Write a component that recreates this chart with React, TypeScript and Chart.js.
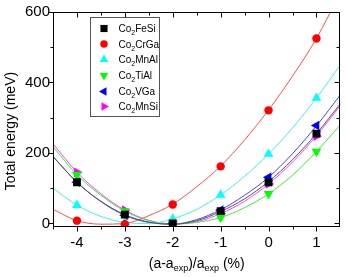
import React, { useEffect, useRef } from 'react';
import { Chart, registerables } from 'chart.js';
Chart.register(...registerables);

const FONT = '"Liberation Sans", Arial, sans-serif';

// measured points
const pointX = [-4, -3, -2, -1, 0, 1];
const feSiPts = [117, 25, 0, 35, 117, 255];
const crGaPts = [8, -2, 54, 162, 321, 525];
const mnAlPts = [52, 3, 13, 81, 197, 356];
const tiAlPts = [138, 35, -1, 17, 84, 204];
const vGaPts = [117, 23, 0, 38, 131, 278];
const mnSiPts = [145, 38, -1, 28, 112, 248];

// fitted curves
const fitX = [-4.5, -4, -3.5, -3, -2.5, -2, -1.5, -1, -0.5, 0, 0.5, 1, 1.5];
const feSiFit = [190, 117, 63, 25, 4, -2, 8, 34, 70, 119, 181, 255, 340];
const crGaFit = [40, 8, -2, 0, 22, 55, 104, 163, 237, 322, 418, 525, 655];
const mnAlFit = [100, 52, 20, 3, 0, 13, 40, 81, 134, 197, 271, 356, 450];
const tiAlFit = [218, 138, 80, 35, 8, -2, 3, 17, 45, 84, 137, 204, 280];
const vGaFit = [190, 117, 62, 23, 3, -2, 11, 39, 80, 131, 198, 277, 365];
const mnSiFit = [226, 145, 84, 38, 9, -1, 5, 28, 63, 112, 174, 249, 335];

const seriesNames = ['FeSi', 'CrGa', 'MnAl', 'TiAl', 'VGa', 'MnSi'];
const seriesColors = ['#000000', '#ff0000', '#00ffff', '#00ff00', '#0000ff', '#ff00ff'];
const lineColors = ['#555555', '#ff5050', '#40f0f0', '#40e840', '#4040ff', '#ff40ff'];
const seriesStyles = ['rect', 'circle', 'triangle', 'triangle', 'triangle', 'triangle'];
const seriesRot = [0, 0, 0, 180, 270, 90];
const seriesRadius = [5.6, 4.2, 5.6, 5.6, 5.6, 5.6];

const xTicks = [-4, -3, -2, -1, 0, 1];
const yTicks = [0, 200, 400, 600];
const xTitleParts = [['(a-a', false], ['exp', true], [')/a', false], ['exp', true], [' (%)', false]];
const yTitle = 'Total energy (meV)';

const pts = [feSiPts, crGaPts, mnAlPts, tiAlPts, vGaPts, mnSiPts];
const fits = [feSiFit, crGaFit, mnAlFit, tiAlFit, vGaFit, mnSiFit];

function drawMarker(ctx: CanvasRenderingContext2D, style: string, rot: number, x: number, y: number, r: number, color: string) {
  ctx.save();
  ctx.fillStyle = color;
  ctx.translate(x, y);
  ctx.rotate((rot * Math.PI) / 180);
  ctx.beginPath();
  if (style === 'rect') {
    const s = r * Math.SQRT1_2;
    ctx.rect(-s, -s, 2 * s, 2 * s);
  } else if (style === 'circle') {
    ctx.arc(0, 0, r, 0, Math.PI * 2);
  } else {
    for (let i = 0; i < 3; i++) {
      const a = (i * 2 * Math.PI) / 3;
      const px = Math.sin(a) * r;
      const py = -Math.cos(a) * r;
      if (i === 0) ctx.moveTo(px, py);
      else ctx.lineTo(px, py);
    }
    ctx.closePath();
  }
  ctx.fill();
  ctx.restore();
}

const decor = {
  id: 'decor',
  afterDraw(chart: any) {
    const { ctx, chartArea } = chart;
    const xs = chart.scales.x;
    const ys = chart.scales.y;
    const L = Math.round(chartArea.left) + 0.5;
    const R = Math.round(chartArea.right) - 0.5;
    const T = Math.round(chartArea.top) + 0.5;
    const B = Math.round(chartArea.bottom) - 0.5;
    ctx.save();
    ctx.strokeStyle = '#000';
    ctx.lineWidth = 1;
    ctx.strokeRect(L, T, R - L, B - T);
    ctx.beginPath();
    const xMinor = xTicks.map((v) => v + 0.5).concat([xTicks[0] - 0.5]);
    const yMinor = yTicks.slice(0, -1).map((v, i) => (v + yTicks[i + 1]) / 2);
    const xt = (v: number, len: number) => {
      const p = Math.round(xs.getPixelForValue(v)) + 0.5;
      if (p < L - 0.1 || p > R + 0.1) return;
      ctx.moveTo(p, B); ctx.lineTo(p, B + len);
      ctx.moveTo(p, T); ctx.lineTo(p, T + len);
    };
    const yt = (v: number, len: number) => {
      const p = Math.round(ys.getPixelForValue(v)) + 0.5;
      ctx.moveTo(L, p); ctx.lineTo(L - len, p);
      ctx.moveTo(R, p); ctx.lineTo(R - len, p);
    };
    xTicks.forEach((v) => xt(v, 5));
    xMinor.forEach((v) => xt(v, 3));
    yTicks.forEach((v) => yt(v, 5));
    yMinor.forEach((v) => yt(v, 3));
    ctx.stroke();

    // legend
    const bx = 90.5, by = 17.5, bw = 69, bh = 99;
    ctx.strokeStyle = '#555';
    ctx.strokeRect(bx, by, bw, bh);
    const rowY = [28.5, 44, 59.5, 75.5, 91.5, 106.5];
    seriesNames.forEach((n, i) => {
      drawMarker(ctx, seriesStyles[i], seriesRot[i], 104, rowY[i], seriesRadius[i] * 0.9, seriesColors[i]);
      ctx.fillStyle = '#000';
      ctx.textBaseline = 'alphabetic';
      ctx.textAlign = 'left';
      let x = 118.5;
      const base = rowY[i] + 3.6;
      ctx.font = `10px ${FONT}`;
      ctx.fillText('Co', x, base);
      x += ctx.measureText('Co').width;
      ctx.font = `7px ${FONT}`;
      ctx.fillText('2', x, base + 3);
      x += ctx.measureText('2').width;
      ctx.font = `10px ${FONT}`;
      ctx.fillText(n, x, base);
    });

    // x title
    const mainF = `14px ${FONT}`;
    const subF = `9px ${FONT}`;
    let w = 0;
    xTitleParts.forEach(([t, sub]) => {
      ctx.font = sub ? subF : mainF;
      w += ctx.measureText(t as string).width;
    });
    let x = (chartArea.left + chartArea.right) / 2 - w / 2;
    const base = 268;
    xTitleParts.forEach(([t, sub]) => {
      ctx.font = sub ? subF : mainF;
      ctx.fillStyle = '#000';
      ctx.fillText(t as string, x, sub ? base + 3 : base);
      x += ctx.measureText(t as string).width;
    });

    // y title
    ctx.save();
    ctx.translate(11.5, 131);
    ctx.rotate(-Math.PI / 2);
    ctx.font = mainF;
    ctx.textAlign = 'center';
    ctx.textBaseline = 'middle';
    ctx.fillText(yTitle, 0, 0);
    ctx.restore();
    ctx.restore();
  },
};

export default function App() {
  const ref = useRef<HTMLCanvasElement>(null);
  useEffect(() => {
    if (!ref.current) return;
    const pointSets = seriesNames.map((n, i) => ({
      type: 'scatter' as const,
      label: 'Co2' + n,
      data: pointX.map((x, j) => ({ x, y: pts[i][j] })),
      pointStyle: seriesStyles[i],
      pointRotation: seriesRot[i],
      pointRadius: seriesRadius[i],
      pointBackgroundColor: seriesColors[i],
      pointBorderWidth: 0,
      borderWidth: 0,
      showLine: false,
    }));
    const lineSets = seriesNames.map((n, i) => ({
      type: 'scatter' as const,
      label: 'fit ' + n,
      data: fitX.map((x, j) => ({ x, y: fits[i][j] })),
      showLine: true,
      borderColor: lineColors[i],
      borderWidth: 1,
      pointRadius: 0,
      cubicInterpolationMode: 'monotone' as const,
      fill: false,
    }));
    const chart = new Chart(ref.current, {
      type: 'scatter',
      data: { datasets: [...pointSets, ...lineSets] as any },
      options: {
        animation: false,
        responsive: true,
        maintainAspectRatio: false,
        layout: { padding: { top: 10, right: 1, left: 0, bottom: 0 } },
        plugins: { legend: { display: false }, tooltip: { enabled: false } },
        scales: {
          x: {
            type: 'linear',
            min: -4.5,
            max: 1.5,
            afterBuildTicks: (s: any) => { s.ticks = xTicks.map((v) => ({ value: v })); },
            afterFit: (s: any) => { s.height = 50; },
            grid: { display: false, drawTicks: false },
            border: { display: false },
            ticks: { color: '#000', padding: 7, font: { family: FONT, size: 15 }, maxRotation: 0, callback: (v: any) => String(v) },
          },
          y: {
            type: 'linear',
            min: -10,
            max: 600,
            afterBuildTicks: (s: any) => { s.ticks = yTicks.map((v) => ({ value: v })); },
            afterFit: (s: any) => { s.width = 53; },
            grid: { display: false, drawTicks: false },
            border: { display: false },
            ticks: { color: '#000', padding: 3, font: { family: FONT, size: 15 }, callback: (v: any) => String(v) },
          },
        },
      },
      plugins: [decor],
    });
    return () => chart.destroy();
  }, []);
  return (
    <div style={{ position: 'absolute', left: 0, top: 0, width: 346, height: 277, background: '#fff' }}>
      <canvas ref={ref} />
    </div>
  );
}
